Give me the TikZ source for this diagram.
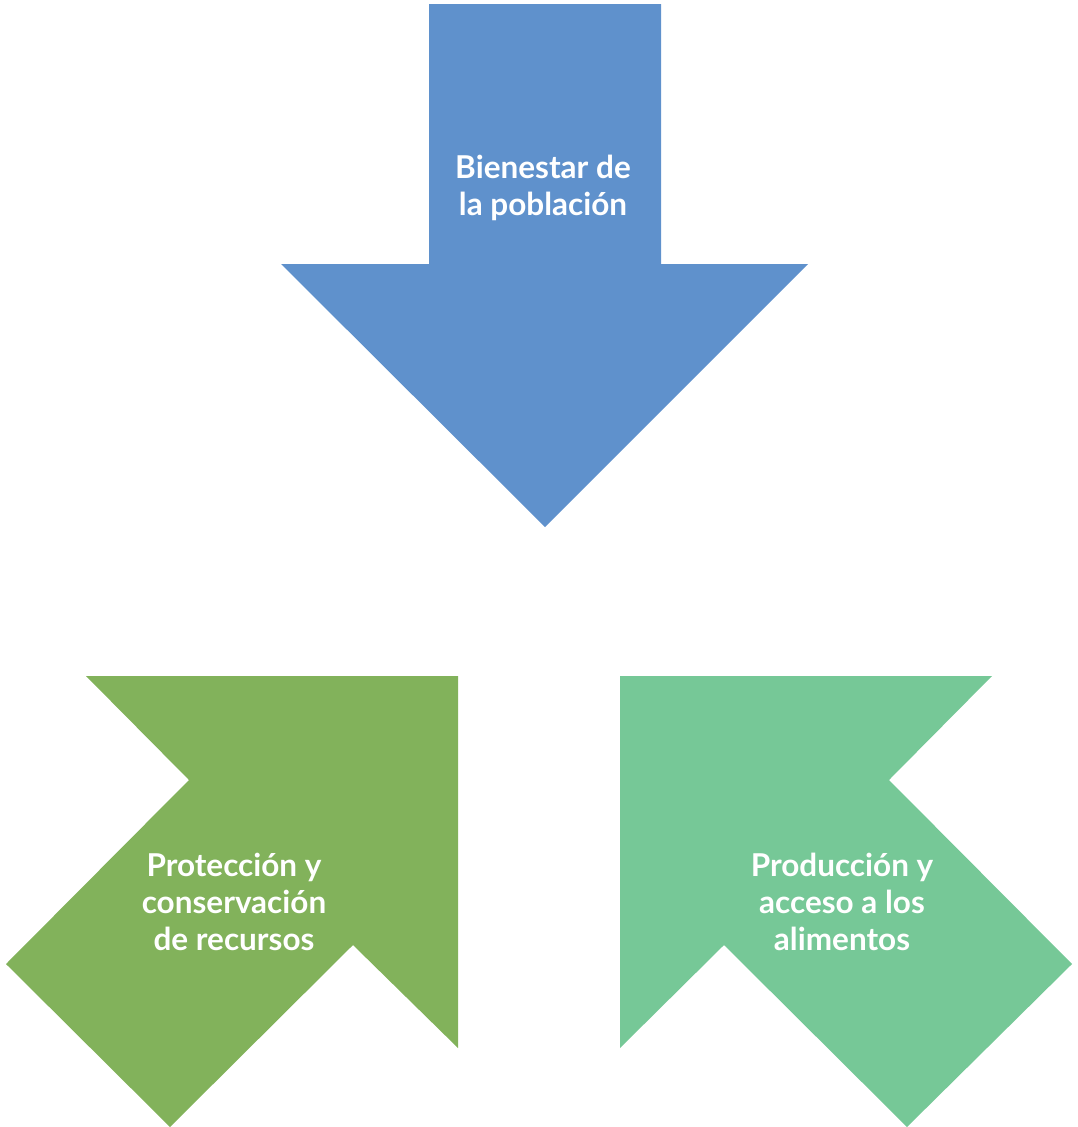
\documentclass[tikz,border=0pt]{standalone}
\usepackage{fontspec}
\setmainfont{Lato}
\definecolor{arrowblue}{RGB}{95,145,204}
\definecolor{arrowgreen}{RGB}{130,178,91}
\definecolor{arrowmint}{RGB}{118,200,151}

\begin{document}
\begin{tikzpicture}[x=1pt,y=-1pt,
        shp/.style={fill=#1,draw=none},
        lbl/.style={text=white,align=center,inner sep=0pt,
                    font=\bfseries\fontsize{31.5}{37}\selectfont}]
  \useasboundingbox (0,0) rectangle (1078,1127);

  \fill[shp=arrowblue] (429,4) -- (661,4) -- (661,264) -- (808,264)
        -- (545,527) -- (281,264) -- (429,264) -- cycle;
  \fill[shp=arrowgreen] (86,676) -- (458,676) -- (458,1048) -- (353,945)
        -- (170,1127) -- (6,964) -- (189,780) -- cycle;
  \fill[shp=arrowmint] (620,676) -- (992,676) -- (889,780) -- (1072,964)
        -- (907,1127) -- (724,945) -- (620,1048) -- cycle;

  \node[lbl] (bienestar) at (543,188) {Bienestar de\\la población};
  \node[lbl] (proteccion) at (234,902) {Protección y\\conservación\\de recursos};
  \node[lbl] (produccion) at (842,902) {Producción y\\acceso a los\\alimentos};
\end{tikzpicture}
\end{document}
